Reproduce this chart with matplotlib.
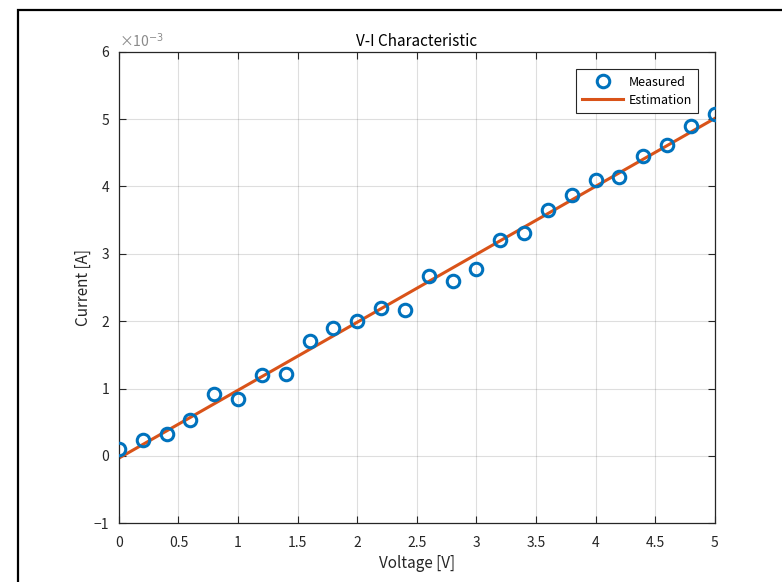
import numpy as np
import matplotlib
matplotlib.use('Agg')
import matplotlib.pyplot as plt
from matplotlib.patches import Rectangle
from matplotlib.ticker import FuncFormatter

plt.rcParams['font.family'] = ['Noto Sans CJK JP', 'DejaVu Sans']

# measured data (current in units of 1e-3 A)
voltage = np.arange(0, 5.01, 0.2)
current = [0.10, 0.23, 0.33, 0.54, 0.92, 0.85, 1.20, 1.21, 1.71, 1.90,
           2.00, 2.20, 2.16, 2.67, 2.59, 2.77, 3.21, 3.31, 3.65, 3.88,
           4.09, 4.14, 4.45, 4.62, 4.90, 5.07]
xticks = np.arange(0, 5.01, 0.5)
yticks = np.arange(-1, 7, 1)

# least squares line
coef = np.polyfit(voltage, current, 1)
est = np.polyval(coef, voltage)

axis_col = '#262626'

fig = plt.figure(figsize=(7.82, 5.82), dpi=100)
ax = fig.add_axes([0.152, 0.101, 0.762, 0.81])

ax.plot(voltage, current, 'o', mfc='none', mec='#0072BD', mew=2.2, ms=9,
        label='Measured', zorder=3)
ax.plot(voltage, est, '-', color='#D95319', lw=2.2, label='Estimation', zorder=2)

ax.set_xlim(0, 5)
ax.set_ylim(-1, 6)
ax.set_xticks(xticks)
ax.set_yticks(yticks)
fmt = FuncFormatter(lambda v, p: ('%g' % v).replace('-', '\u2212'))
ax.xaxis.set_major_formatter(fmt)
ax.yaxis.set_major_formatter(fmt)
ax.grid(True, color='#262626', alpha=0.15, lw=0.8)
ax.tick_params(direction='in', top=True, right=True, colors=axis_col,
               labelsize=10, length=5, width=0.8)
ax.tick_params(axis='x', pad=9)
ax.tick_params(axis='y', pad=7)
for s in ax.spines.values():
    s.set_color(axis_col)
    s.set_linewidth(0.9)

ax.set_xlabel('Voltage [V]', fontsize=11, color=axis_col, labelpad=4)
ax.set_ylabel('Current [A]', fontsize=11, color=axis_col, labelpad=1)
ax.set_title('V-I Characteristic', fontsize=11, color='black', pad=4)
ax.text(0.0, 1.003, '\u00d710$^{-3}$', transform=ax.transAxes, fontsize=10,
        color='#8a8a8a', ha='left', va='bottom')

leg = ax.legend(loc='upper right', bbox_to_anchor=(0.976, 0.968), fontsize=9,
                fancybox=False, framealpha=1, edgecolor=axis_col,
                handlelength=3.3, handletextpad=0.4, borderpad=0.5,
                labelspacing=0.4, borderaxespad=0.2)
leg.get_frame().set_linewidth(0.8)

# outer frame of the original screenshot
fig.patches.append(Rectangle((18 / 782, -0.1), 1.2, 1 - 10 / 582 + 0.1,
                             transform=fig.transFigure, fill=False,
                             edgecolor='black', lw=1.6))

fig.savefig('out.png', dpi=100)
